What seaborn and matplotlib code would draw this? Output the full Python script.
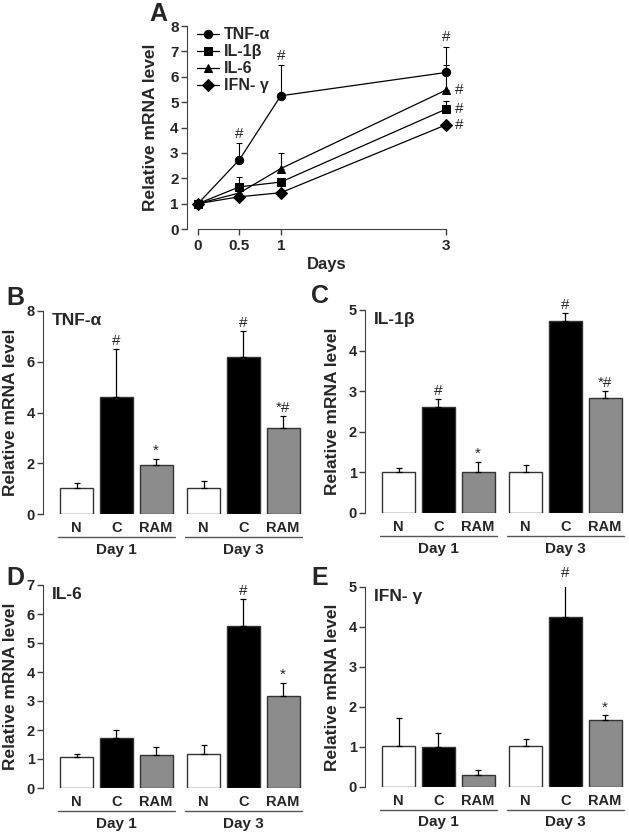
import numpy as np
import pandas as pd
import matplotlib
matplotlib.use("Agg")
import matplotlib.pyplot as plt
import seaborn as sns

sns.set_style("ticks")
plt.rcParams['font.family'] = ['Liberation Sans', 'DejaVu Sans']
plt.rcParams['font.weight'] = 'bold'
plt.rcParams['axes.labelweight'] = 'bold'

# ---------------- data ----------------
# panel A: time course
days = [0, 0.5, 1, 3]
cytokines = ['TNF-α', 'IL-1β', 'IL-6', 'IFN- γ']
tnf_time = [1.0, 2.73, 5.25, 6.17]
tnf_time_err = [0.0, 0.64, 1.21, 1.01]
il1b_time = [1.0, 1.66, 1.85, 4.73]
il1b_time_err = [0.0, 0.39, 0.08, 0.30]
il6_time = [1.0, 1.42, 2.38, 5.48]
il6_time_err = [0.0, 0.10, 0.60, 1.00]
ifng_time = [1.0, 1.27, 1.43, 4.11]
ifng_time_err = [0.0, 0.05, 0.05, 0.05]
time_marks_top = ['', '#', '#', '#']          # above TNF-α
time_marks_right = ['#', '#', '#']            # at day 3 for IL-6, IL-1β, IFN-γ

# panels B-E: bars
positions = [0, 1, 2, 3.2, 4.2, 5.2]
treatments = ['N', 'C', 'RAM', 'N', 'C', 'RAM']
day_groups = ['Day 1', 'Day 3']

tnf_mean = [1.02, 4.62, 1.94, 1.02, 6.18, 3.38]
tnf_err = [0.20, 1.90, 0.22, 0.28, 1.03, 0.49]
tnf_marks = ['', '#', '*', '', '#', '*#']

il1b_mean = [1.01, 2.61, 1.01, 1.01, 4.72, 2.84]
il1b_err = [0.10, 0.20, 0.24, 0.16, 0.20, 0.16]
il1b_marks = ['', '#', '*', '', '#', '*#']

il6_mean = [1.06, 1.72, 1.15, 1.17, 5.59, 3.16]
il6_err = [0.12, 0.28, 0.25, 0.31, 0.92, 0.46]
il6_marks = ['', '', '', '', '#', '*']

ifng_mean = [1.03, 1.00, 0.31, 1.02, 4.25, 1.68]
ifng_err = [0.70, 0.35, 0.11, 0.17, 0.90, 0.11]
ifng_marks = ['', '', '', '', '#', '*']

bar_colors = {'N': 'white', 'C': 'black', 'RAM': '#8c8c8c'}
spine_col = '#404040'

fig = plt.figure(figsize=(6.29, 8.34), dpi=100)


def px(x, y, w, h):
    W, H = 629, 834
    return [x / W, 1 - (y + h) / H, w / W, h / H]


def style_axis(ax, tick_size):
    for s in ['top', 'right']:
        ax.spines[s].set_visible(False)
    ax.spines['left'].set_color(spine_col)
    ax.spines['bottom'].set_color(spine_col)
    ax.tick_params(axis='y', length=4, width=1, color=spine_col,
                   labelsize=tick_size, pad=2)


# ---------------- panel A ----------------
axA = fig.add_axes(px(187, 26, 280, 203))
series = [tnf_time, il1b_time, il6_time, ifng_time]
errs = [tnf_time_err, il1b_time_err, il6_time_err, ifng_time_err]
df_a = pd.DataFrame({
    'day': np.tile(days, 4),
    'value': np.concatenate(series),
    'cytokine': np.repeat(cytokines, 4),
})
sns.lineplot(data=df_a, x='day', y='value', hue='cytokine', style='cytokine',
             hue_order=cytokines, style_order=cytokines,
             palette=['black'] * 4, markers=['o', 's', '^', 'D'], dashes=False,
             markersize=6, markeredgecolor='black', linewidth=0.9,
             errorbar=None, ax=axA)
for s, e in zip(series, errs):
    axA.errorbar(days, s, yerr=[np.zeros(4), e], fmt='none', ecolor='black',
                 elinewidth=0.8, capsize=2.5, capthick=0.8)
for d, v, e, m in zip(days, tnf_time, tnf_time_err, time_marks_top):
    if m:
        axA.text(d, v + e + 0.1, m, ha='center', va='bottom', fontsize=11,
                 fontweight='normal')
for v, m in zip([il6_time[-1], il1b_time[-1], ifng_time[-1]], time_marks_right):
    axA.text(days[-1] + 0.1, v, m, ha='left', va='center', fontsize=11,
             fontweight='normal')
axA.set_xlim(-0.133, 3.25)
axA.set_ylim(0, 8)
axA.set_xticks(days)
axA.set_xticklabels(['0', '0.5', '1', '3'])
axA.set_yticks(range(0, 9))
style_axis(axA, 11)
axA.spines['bottom'].set_bounds(0, 3)
axA.tick_params(axis='x', length=4, width=1, color=spine_col, labelsize=11, pad=3)
axA.set_xlabel('Days', fontsize=12, labelpad=3)
axA.set_ylabel('Relative mRNA level', fontsize=12.5)
axA.yaxis.set_label_coords(-0.105, 0.5)
handles, labels = axA.get_legend_handles_labels()
axA.legend(handles, labels, loc='upper left', bbox_to_anchor=(0.0, 1.04),
           frameon=False, fontsize=11.5, handlelength=1.4, handletextpad=0.3,
           labelspacing=0.12, borderaxespad=0.2)
fig.text(158 / 629, 1 - 14 / 834, 'A', fontsize=18, fontweight='bold',
         ha='center', va='center')


# ---------------- bar panels ----------------
def bar_panel(rect, means, errors, marks, title, ymax, yticks, letter, letter_xy):
    ax = fig.add_axes(px(*rect))
    df = pd.DataFrame({'pos': positions, 'value': means, 'treat': treatments})
    sns.barplot(data=df, x='pos', y='value', hue='treat', hue_order=['N', 'C', 'RAM'],
                palette=bar_colors, native_scale=True, dodge=False, width=0.83,
                edgecolor='#333333', linewidth=1, errorbar=None, legend=False, ax=ax)
    ax.errorbar(positions, means, yerr=[np.zeros(6), errors], fmt='none',
                ecolor='black', elinewidth=0.9, capsize=2.5, capthick=0.9, zorder=1)
    for p, m, e, t in zip(positions, means, errors, marks):
        if t:
            ax.text(p, m + e + ymax * 0.005, t, ha='center', va='bottom',
                    fontsize=11, fontweight='normal')
    ax.set_xlim(-0.85, 5.7)
    ax.set_ylim(0, ymax)
    ax.set_yticks(yticks)
    ax.set_xticks(positions)
    ax.set_xticklabels(treatments)
    ax.set_xlabel('')
    style_axis(ax, 10.5)
    ax.spines['bottom'].set_visible(False)
    ax.tick_params(axis='x', length=0, labelsize=10.5, pad=5)
    ax.set_ylabel('Relative mRNA level', fontsize=12.5)
    ax.yaxis.set_label_coords(-0.098, 0.5)
    ax.text(0.035, 0.955, title, transform=ax.transAxes, ha='left', va='center',
            fontsize=12.5, fontweight='bold')
    tr = ax.get_xaxis_transform()
    for i, g in enumerate(day_groups):
        x0, x1 = positions[3 * i] - 0.47, positions[3 * i + 2] + 0.47
        ax.plot([x0, x1], [-0.115, -0.115], color='#555555', lw=1,
                transform=tr, clip_on=False)
        ax.text((x0 + x1) / 2, -0.175, g, transform=tr, ha='center',
                va='center', fontsize=11)
    fig.text(letter_xy[0] / 629, 1 - letter_xy[1] / 834, letter, fontsize=18,
             fontweight='bold', ha='center', va='center')
    return ax


bar_panel((43, 311, 260, 203), tnf_mean, tnf_err, tnf_marks, 'TNF-α', 8,
          [0, 2, 4, 6, 8], 'B', (15, 298))
bar_panel((365, 310, 260, 203), il1b_mean, il1b_err, il1b_marks, 'IL-1β', 5,
          range(0, 6), 'C', (320, 296))
bar_panel((43, 585, 260, 203), il6_mean, il6_err, il6_marks, 'IL-6', 7,
          range(0, 8), 'D', (15, 578))
bar_panel((365, 587, 260, 200), ifng_mean, ifng_err, ifng_marks, 'IFN- γ', 5,
          range(0, 6), 'E', (320, 578))

plt.savefig('out.png', dpi=100)
